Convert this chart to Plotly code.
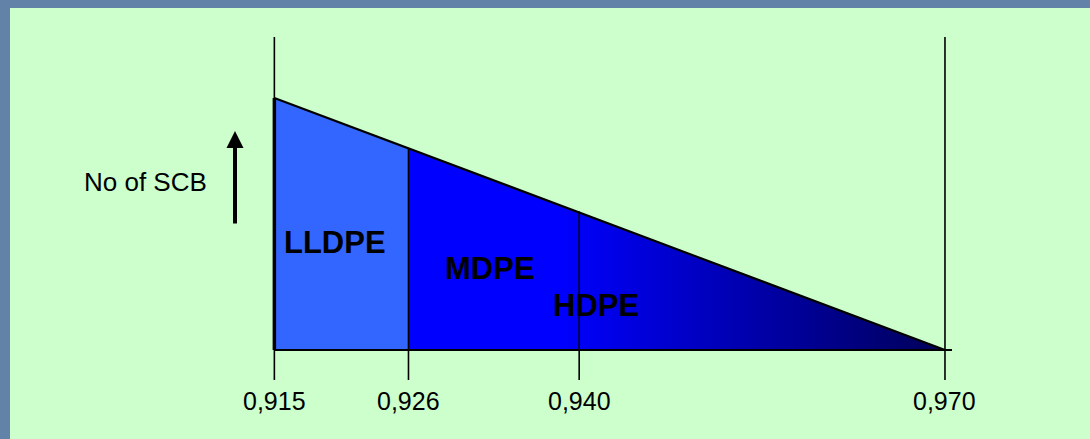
import plotly.graph_objects as go

# ---- data ----
densities = [0.915, 0.926, 0.940, 0.970]          # density boundaries (g/cm3)
tick_labels = ["0,915", "0,926", "0,940", "0,970"]
scb = [100, 80, 55, 0]                             # relative number of short-chain branches
classes = ["LLDPE", "MDPE", "HDPE"]
y_axis_title = "No of SCB"

# ---- layout geometry (pixel helpers for decorations) ----
W, H = 1090, 439
ML, MT = 10, 8
X0 = 0.893319
X1 = 0.981894
Y0 = -35.32
Y1 = 135.71


def px_x(px):
    return X0 + (px - ML) / (W - ML) * (X1 - X0)


def px_y(py):
    return Y1 - (py - MT) / (H - MT) * (Y1 - Y0)


guide_top = px_y(37)
tick_bottom = px_y(380)

fig = go.Figure()

# LLDPE region
fig.add_trace(go.Scatter(
    x=[densities[0], densities[0], densities[1], densities[1], densities[0]],
    y=[0, scb[0], scb[1], 0, 0],
    fill="toself", fillcolor="#3366FF", mode="lines",
    line=dict(width=0), hoverinfo="skip"))

# MDPE + HDPE region with gradient
fig.add_trace(go.Scatter(
    x=[densities[1], densities[1], densities[3], densities[1]],
    y=[0, scb[1], scb[3], 0],
    fill="toself", mode="lines", line=dict(width=0),
    fillgradient=dict(type="horizontal",
                      colorscale=[[0, "#0000FF"], [0.28, "#0000FF"], [1, "#000058"]]),
    hoverinfo="skip"))

# top sloped edge
fig.add_trace(go.Scatter(x=[densities[0], densities[3]], y=[scb[0], scb[3]],
                         mode="lines", line=dict(color="black", width=2.2), hoverinfo="skip"))
# left thick edge
fig.add_trace(go.Scatter(x=[densities[0], densities[0]], y=[0, scb[0]],
                         mode="lines", line=dict(color="black", width=3.5), hoverinfo="skip"))
# bottom edge
fig.add_trace(go.Scatter(x=[densities[0], px_x(952)], y=[0, 0],
                         mode="lines", line=dict(color="black", width=2.2), hoverinfo="skip"))
# outer guide lines at 0.915 and 0.970
for d in (densities[0], densities[3]):
    fig.add_trace(go.Scatter(x=[d, d], y=[tick_bottom, guide_top], mode="lines",
                             line=dict(color="black", width=1.6), hoverinfo="skip"))
# inner dividers (with ticks below)
for d, s in zip(densities[1:3], scb[1:3]):
    fig.add_trace(go.Scatter(x=[d, d], y=[tick_bottom, s], mode="lines",
                             line=dict(color="black", width=1.6), hoverinfo="skip"))

annotations = []
# tick labels
for d, t in zip(densities, tick_labels):
    annotations.append(dict(x=d, y=px_y(401), text=t, showarrow=False,
                            xanchor="center", yanchor="middle",
                            font=dict(size=25, color="black")))
# class labels
label_pos = [(335, 242), (490, 268), (596, 305)]
for name, (lx, ly) in zip(classes, label_pos):
    annotations.append(dict(x=px_x(lx), y=px_y(ly), text="<b>%s</b>" % name,
                            showarrow=False, xanchor="center", yanchor="middle",
                            font=dict(size=31, color="black")))
# axis title
annotations.append(dict(x=px_x(145), y=px_y(182), text=y_axis_title, showarrow=False,
                        xanchor="center", yanchor="middle",
                        font=dict(size=26, color="black")))
# arrow
annotations.append(dict(x=px_x(235), y=px_y(131), ax=px_x(235), ay=px_y(225),
                        axref="x", ayref="y", xref="x", yref="y", text="",
                        showarrow=True, arrowhead=2, arrowsize=0.85, arrowwidth=4,
                        arrowcolor="black", standoff=0, startstandoff=0))

fig.update_layout(
    width=W, height=H,
    margin=dict(l=ML, t=MT, r=0, b=0, pad=0),
    paper_bgcolor="#6282a8",
    plot_bgcolor="#CCFFCC",
    showlegend=False,
    font=dict(family="Liberation Sans, Arial, sans-serif"),
    xaxis=dict(range=[X0, X1], visible=False, fixedrange=True),
    yaxis=dict(range=[Y0, Y1], visible=False, fixedrange=True),
    annotations=annotations,
)

fig.write_html(
    "out.html",
    config={"displayModeBar": False},
    post_script=("document.documentElement.style.margin='0';"
                 "document.body.style.margin='0';document.body.style.padding='0';"
                 "document.body.style.overflow='hidden';"
                 "document.body.style.background='#6282a8';"),
)
